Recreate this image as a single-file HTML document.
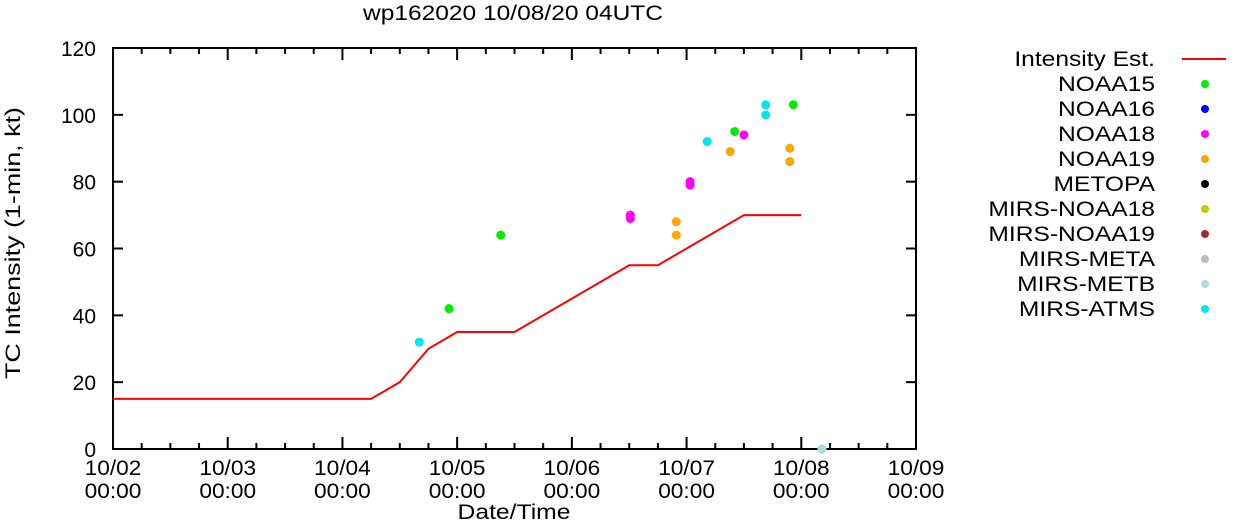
<!DOCTYPE html>
<html><head><meta charset="utf-8"><style>
body{margin:0;background:#fff;font-family:"Liberation Sans",sans-serif}
svg text{font-family:"Liberation Sans",sans-serif;font-size:21px;fill:#000}
</style></head><body>
<svg width="1241" height="521">
<text x="513" y="20" text-anchor="middle" textLength="300" lengthAdjust="spacingAndGlyphs">wp162020 10/08/20 04UTC</text>
<text transform="translate(20,243) rotate(-90)" text-anchor="middle" textLength="272" lengthAdjust="spacingAndGlyphs">TC Intensity (1-min, kt)</text>
<text x="514" y="519" text-anchor="middle" textLength="113" lengthAdjust="spacingAndGlyphs">Date/Time</text>
<g id="axes"></g><g id="marks"></g><g id="legend"></g>
</svg>
<script>
const lineDays=[0,2.25,2.5,2.75,3.0,3.5,4.5,4.75,5.5,6.0];
const lineVals=[15,15,20,30,35,35,55,55,70,70];
const seriesNames=["NOAA15","NOAA16","NOAA18","NOAA19","METOPA","MIRS-NOAA18","MIRS-NOAA19","MIRS-META","MIRS-METB","MIRS-ATMS"];
const seriesColors=["#00ee00","#0000ff","#ff00ff","#ffa500","#000000","#c8c800","#a52a2a","#bebebe","#add8e6","#00e5ee"];
const ptSeries=[0,0,0,0,2,2,2,2,2,3,3,3,3,3,9,9,9,9,7,8];
const ptDays=[2.93,3.38,5.42,5.93,4.51,4.51,5.03,5.03,5.5,4.91,4.91,5.38,5.9,5.9,2.67,5.18,5.69,5.69,6.18,6.18];
const ptVals=[42,64,95,103,69,70,79,80,94,68,64,89,90,86,32,92,103,100,0,0];
const xTickLabels=["10/02","10/03","10/04","10/05","10/06","10/07","10/08","10/09"];
const yTicks=[0,20,40,60,80,100,120];
const X0=113,X1=916,Y0=449,Y1=48;
const xs=d=>X0+d*(X1-X0)/7, ys=v=>Y0-v*(Y0-Y1)/120;
const NS="http://www.w3.org/2000/svg";
function mk(t,a,p){const e=document.createElementNS(NS,t);for(const k in a)e.setAttribute(k,a[k]);p.appendChild(e);return e;}
function stretch(t,f){const w=t.getComputedTextLength();t.setAttribute('textLength',w*f);t.setAttribute('lengthAdjust','spacingAndGlyphs');}
const ax=document.getElementById('axes'),mg=document.getElementById('marks'),lg=document.getElementById('legend');
const fr=mk('rect',{x:X0,y:Y1,width:X1-X0,height:Y0-Y1,fill:'none',stroke:'#000','stroke-width':2},ax);


yTicks.forEach(v=>{
 mk('line',{x1:X0,x2:X0+10,y1:ys(v),y2:ys(v),stroke:'#000','stroke-width':2},ax);
 mk('line',{x1:X1,x2:X1-10,y1:ys(v),y2:ys(v),stroke:'#000','stroke-width':2},ax);
 const t=mk('text',{x:X0-17,y:ys(v)+8,'text-anchor':'end'},ax);t.textContent=v;
 
 
});
for(let i=0;i<=28;i++){const x=xs(i/4),L=i%4==0?12:6;
 mk('line',{x1:x,x2:x,y1:Y0,y2:Y0-L,stroke:'#000','stroke-width':2},ax);
 mk('line',{x1:x,x2:x,y1:Y1,y2:Y1+L,stroke:'#000','stroke-width':2},ax);}
xTickLabels.forEach((s,i)=>{const x=xs(i);
 const t=mk('text',{x:x,y:475,'text-anchor':'middle'},ax);t.textContent=s;
 
 
 stretch(t,1.08);
 const t2=mk('text',{x:x,y:498,'text-anchor':'middle'},ax);t2.textContent="00:00";
 
 
 stretch(t2,1.08);});
const pl=mk('polyline',{points:lineDays.map((d,i)=>xs(d)+','+ys(lineVals[i])).join(' '),fill:'none',stroke:'#ff0000','stroke-width':2},mg);


ptDays.forEach((d,i)=>{const c=mk('circle',{cx:xs(d),cy:ys(ptVals[i]),r:4.5,fill:seriesColors[ptSeries[i]]},mg);
 
 });
const lt=mk('text',{x:1155,y:66,'text-anchor':'end'},lg);lt.textContent="Intensity Est.";


stretch(lt,1.17);
mk('line',{x1:1182,x2:1226,y1:59,y2:59,stroke:'#ff0000','stroke-width':2},lg);
seriesNames.forEach((n,i)=>{const y=59+25*(i+1);
 const t=mk('text',{x:1155,y:y+7,'text-anchor':'end'},lg);t.textContent=n;
 
 
 stretch(t,1.17);
 mk('circle',{cx:1205,cy:y,r:4,fill:seriesColors[i]},lg);});
</script>
</body></html>
